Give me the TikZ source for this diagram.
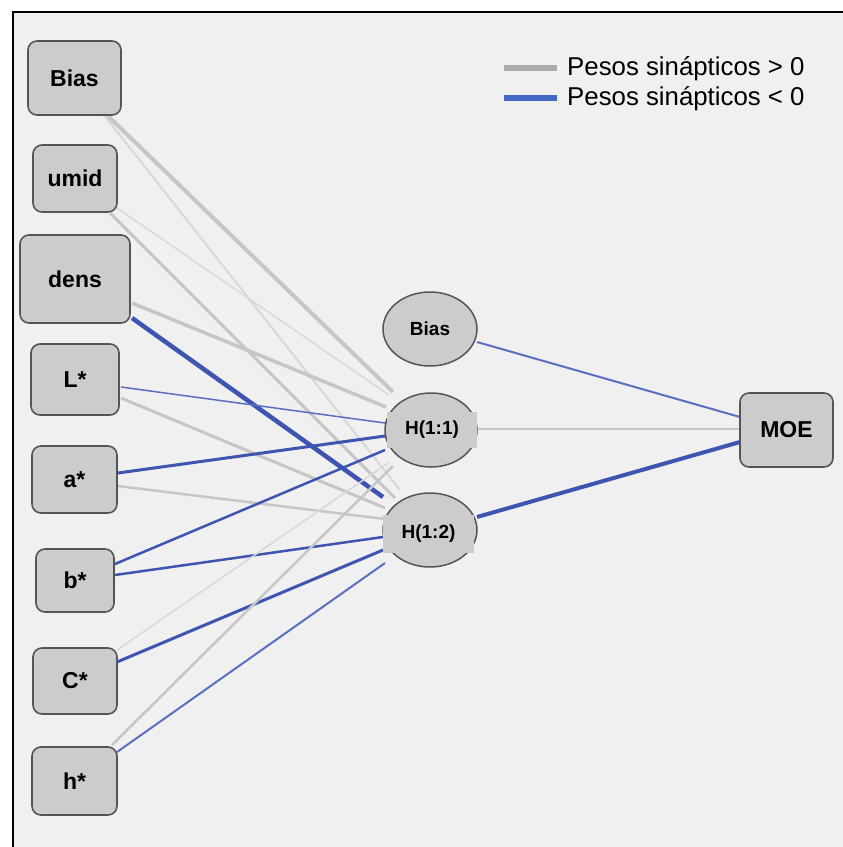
\documentclass[tikz,border=0pt]{standalone}
\usepackage{fontspec}
\setmainfont{Liberation Sans}
\usetikzlibrary{calc,shapes.geometric}
\pgfdeclarelayer{back}
\pgfdeclarelayer{wires}
\pgfsetlayers{back,wires,main}
\definecolor{panel}{HTML}{F0F0F0}
\definecolor{nodefill}{HTML}{CCCCCC}
\definecolor{nodeedge}{HTML}{555555}
\definecolor{posw}{HTML}{C6C6C6}
\definecolor{posl}{HTML}{D8D8D8}
\definecolor{negw}{HTML}{3D55B0}
\definecolor{negl}{HTML}{5A6FC0}
\definecolor{legpos}{HTML}{ABABAB}
\definecolor{legneg}{HTML}{4169C4}
% connector: style, source node, offset, target node, offset
\newcommand\nnwire[5]{\draw[#1] ($(#2)+(#3)$) -- ($(#4)+(#5)$);}
\begin{document}
\begin{tikzpicture}[x=1pt,y=-1pt,
  inbox/.style={draw=nodeedge, fill=nodefill, line width=1.6pt,
    rounded corners=9pt, inner sep=0pt,
    font=\fontsize{23}{27}\selectfont\bfseries},
  hidnode/.style={ellipse, draw=nodeedge, fill=nodefill, line width=1.5pt,
    inner sep=0pt, minimum width=94pt, minimum height=74pt,
    font=\fontsize{19}{23}\selectfont\bfseries},
  hidlabel/.style={fill=nodefill, inner sep=0pt,
    font=\fontsize{19}{23}\selectfont\bfseries},
  legtext/.style={anchor=base west, inner sep=0pt,
    font=\fontsize{25.8}{30}\selectfont},
  pos/.style={posw, line width=#1pt},
  posthin/.style={posl, line width=#1pt},
  neg/.style={negw, line width=#1pt},
  negthin/.style={negl, line width=#1pt},
]
\useasboundingbox (0,0) rectangle (843,847);

% panel
\begin{pgfonlayer}{back}
  \fill[white] (0,0) rectangle (843,847);
  \fill[panel] (12,11) rectangle (843,847);
  \draw[black, line width=2pt] (12.5,847) -- (12.5,11.5) -- (843,11.5);
\end{pgfonlayer}

% input layer
\node[inbox, minimum width=93pt, minimum height=74pt] (inBias) at (74.5,78) {Bias};
\node[inbox, minimum width=84pt, minimum height=67pt] (inUmid) at (75,178.5) {umid};
\node[inbox, minimum width=110pt, minimum height=88pt] (inDens) at (75,279) {dens};
\node[inbox, minimum width=88pt, minimum height=71pt] (inL) at (75,379.5) {L*};
\node[inbox, minimum width=85pt, minimum height=67pt] (inA) at (74.5,479.5) {a*};
\node[inbox, minimum width=78pt, minimum height=63pt] (inB) at (75,580.5) {b*};
\node[inbox, minimum width=84pt, minimum height=66pt] (inC) at (75,681) {C*};
\node[inbox, minimum width=85pt, minimum height=68pt] (inH) at (74.5,781) {h*};

% hidden layer
\node[hidnode] (hb) at (430,329) {Bias};
\node[hidnode, minimum width=92pt] (h11) at (431,430) {};
\node[hidlabel, minimum width=90pt, minimum height=36pt] (h11lab) at (432,430) {H(1:1)};
\node[hidnode] (h12) at (430,530) {};
\node[hidlabel, minimum width=91pt, minimum height=38pt] (h12lab) at (428.5,534) {H(1:2)};

% output layer
\node[inbox, minimum width=93pt, minimum height=74pt] (moe) at (786.5,430) {MOE};

% synaptic weights
\begin{pgfonlayer}{wires}
  \nnwire{pos=4}{inBias}{32.5,37}{h11}{-38,-38}
  \nnwire{posthin=2}{inBias}{29.5,37}{h12}{-30,-40}
  \nnwire{posthin=1.5}{inUmid}{42,29.5}{h11}{-42,-35}
  \nnwire{pos=3}{inUmid}{35,34.5}{h12}{-35,-32}
  \nnwire{pos=3.5}{inDens}{57,24}{h11}{-45,-23}
  \nnwire{neg=4.5}{inDens}{57,39}{h12}{-47,-33}
  \nnwire{negthin=1.5}{inL}{46,7.5}{h11}{-46,-7}
  \nnwire{pos=3}{inL}{46,18.5}{h12}{-45,-22}
  \nnwire{neg=3}{inA}{43.5,-6.5}{h11}{-46,6}
  \nnwire{pos=2.5}{inA}{43.5,6.5}{h12}{-45,-11}
  \nnwire{neg=2.5}{inB}{40,-16.5}{h11}{-46,20}
  \nnwire{neg=2.5}{inB}{40,-5.5}{h12}{-47,7}
  \nnwire{posthin=1.5}{inC}{42,-31}{h11}{-43,33}
  \nnwire{neg=3}{inC}{42,-19}{h12}{-47,20}
  \nnwire{pos=2.5}{inH}{37.5,-36}{h11}{-38,36}
  \nnwire{negthin=2}{inH}{42.5,-29}{h12}{-45,33}
  \nnwire{negthin=2}{hb}{47,13}{moe}{-46.5,-13}
  \nnwire{pos=2.5}{h11}{47,-1}{moe}{-46.5,-1}
  \nnwire{neg=4}{h12}{47,-13}{moe}{-46.5,12}
\end{pgfonlayer}

% legend
\node[legtext] (legA) at (567,75) {Pesos sinápticos > 0};
\node[legtext] (legB) at (567,105) {Pesos sinápticos < 0};
\draw[legpos, line width=5.5pt] ($(legA.base west)+(-63,-7)$) -- ++(53,0);
\draw[legneg, line width=5.5pt] ($(legB.base west)+(-63,-7)$) -- ++(53,0);
\end{tikzpicture}
\end{document}
